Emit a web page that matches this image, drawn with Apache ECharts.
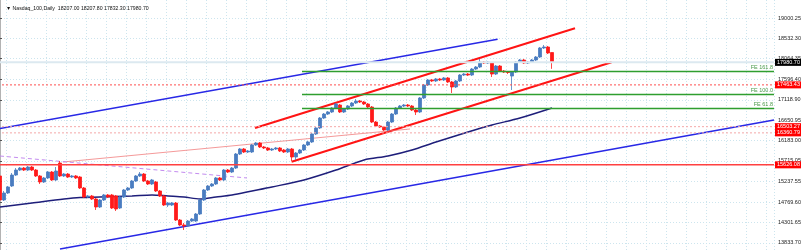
<!DOCTYPE html>
<html><head><meta charset="utf-8">
<script src="https://cdn.jsdelivr.net/npm/echarts@6/dist/echarts.min.js"></script>
<style>html,body{margin:0;padding:0;background:#fff}#c{width:801px;height:250px}</style>
</head><body><div id="c"></div>
<script>
const titleText = '\u25BC Nasdaq_100,Daily  18207.00 18207.80 17832.30 17980.70';
const tickLabels = [19000.25,18532.30,18064.35,17596.40,17118.90,16650.95,16183.00,15715.05,15237.55,14769.60,14301.65,13833.70];
const barCount = 194;
const opens = [
15370,14818,14979,15140,15392,15507,15553,15507,15576,15507,
15370,15232,15324,15461,15278,15668,15370,15415,15347,15370,
15347,15094,14887,14910,14841,14657,14818,14933,14933,14910,
14634,14887,15048,15094,15255,15370,15415,15255,15186,15232,
15025,14910,14703,14703,14749,14358,14244,14221,14335,14335,
14496,14818,15048,15140,15186,15324,15278,15507,15461,15553,
15875,15990,15921,15921,16082,16128,16036,16013,15967,15990,
16013,15967,15921,15990,15806,15898,15967,16082,16151,16335,
16473,16702,16794,16840,16932,17001,16840,16909,16978,17047,
17093,17070,17024,16955,16610,16519,16496,16427,16610,16794,
16932,16978,17001,16978,16886,16840,17162,17461,17576,17553,
17599,17576,17622,17530,17415,17553,17690,17713,17690,17828,
17874,17989,17966,17966,17713,17897,17782,17759,17667,17759,
17989,18035,17966,17989,18035,18104,18311,18334,18207.00];
const closes = [
14818,14979,15117,15392,15507,15553,15507,15576,15507,15370,
15232,15324,15461,15278,15484,15370,15415,15347,15370,15324,
15094,14887,14910,14841,14657,14818,14933,14887,14634,14611,
14887,15048,15094,15255,15370,15415,15255,15186,15278,15025,
14910,14703,14749,14749,14358,14244,14221,14335,14381,14496,
14818,15048,15140,15186,15324,15278,15507,15461,15553,15875,
15990,15921,15944,16082,16128,16036,16013,15967,15990,16013,
15944,15921,15990,15806,15898,15967,16082,16151,16335,16473,
16702,16794,16840,16932,17024,16840,16909,16978,17047,17093,
17070,17024,16955,16610,16519,16496,16427,16610,16794,16932,
16978,17001,16978,16886,16840,17162,17461,17576,17553,17599,
17576,17622,17530,17415,17553,17690,17713,17690,17828,17874,
17989,17966,17989,17713,17897,17782,17759,17748,17759,17989,
18035,17966,17989,18035,18104,18311,18334,18196,17980.70];
const lows = [
14749,14795,14956,15117,15370,15484,15484,15484,15484,15347,
15186,15209,15301,15255,15255,15347,15347,15324,15324,15301,
15071,14864,14864,14818,14588,14634,14795,14864,14611,14565,
14611,14864,15025,15071,15232,15347,15232,15163,15163,15002,
14887,14680,14657,14680,14335,14221,14129,14198,14312,14312,
14473,14795,15025,15117,15163,15255,15255,15438,15438,15530,
15852,15898,15898,15898,16059,16013,15990,15944,15944,15967,
15921,15898,15898,15714,15737,15875,15944,16059,16128,16312,
16450,16679,16771,16817,16909,16817,16817,16886,16955,17024,
17047,17001,16932,16587,16496,16473,16404,16404,16587,16771,
16909,16955,16955,16863,16771,16817,17139,17438,17530,17530,
17553,17553,17507,17277,17392,17530,17667,17667,17667,17805,
17851,17943,17943,17644,17690,17759,17736,17713,17346,17736,
17966,17943,17943,17966,18012,18081,18288,18173,17832.30];
const highs = [
15415,15025,15140,15438,15553,15576,15576,15599,15599,15530,
15392,15347,15484,15484,15576,15714,15438,15438,15392,15392,
15370,15117,14933,14933,14864,14841,14956,14956,14956,14933,
14910,15071,15117,15278,15392,15461,15438,15278,15301,15255,
15048,14933,14772,14772,14772,14381,14289,14358,14404,14519,
14841,15071,15163,15209,15347,15347,15530,15530,15576,15898,
16013,16013,15967,16105,16151,16151,16059,16036,16013,16036,
16036,15990,16013,16013,15921,15990,16105,16174,16358,16496,
16725,16817,16863,16955,17047,17024,16932,17001,17070,17139,
17116,17093,17047,16978,16633,16542,16519,16633,16817,16955,
17001,17024,17024,17001,16909,17185,17484,17599,17599,17622,
17622,17644,17644,17553,17576,17713,17736,17736,17851,17897,
18058,18012,18012,17989,17920,17920,17805,17782,17782,18012,
18058,18058,18012,18058,18127,18334,18380,18357,18207.80];
// moving average, read at sample bars: [bar index, value]
const maPoints = [[0,14657],[8,14749],[16,14841],[20,14875],[25,14887],[33,14910],[38,14933],[42,14910],[46,14887],[50,14841],[54,14887],[58,14933],[63,15025],[68,15117],[76,15278],[84,15507],[91,15737],[97,15829],[103,15967],[109,16151],[117,16381],[123,16542],[130,16702],[138,16932]];
const blueUpper = [[0,16459],[124.4,18511]];
const blueLower = [[15,13692],[193.5,16654]];
const redUpper = [[63.75,16473],[143.75,18764]];
const redLower = [[72.9,15698],[152.9,17982]];
const faintRed = [[15.75,15691],[102.5,16450]];
const violetDash = [[0,15829],[61.75,15324]];
const redLevels = [17463.43,16503.27,16360.79];
const supportLevel = 15626.08;
const priceLevel = 17980.70;
const feLevels = [17775,17247,16920];
const feNames = ['FE 161.8','FE 100.0','FE 61.8'];
const feStart = 75.5;

const categories = [];
for (let i = 0; i < barCount; i++) categories.push(String(i + 1));
const candles = opens.map((o, i) => [o, closes[i], lows[i], highs[i]]);

const FONT = 'Liberation Sans, Arial, sans-serif';
const gridColor = '#cde5ee';
function trend(data, color, width, type) {
  return { type: 'line', xAxisIndex: 1, yAxisIndex: 0, data: data, symbol: 'none', silent: true,
    lineStyle: { color: color, width: width, type: type || 'solid' }, z: 3 };
}
function level(v, color, width, type, boxColor) {
  const s = trend([[-0.5, v], [barCount - 0.5, v]], color, width, type);
  s.z = 5;
  s.endLabel = { show: true, formatter: () => v.toFixed(2), distance: 1,
    backgroundColor: boxColor, color: '#fff', fontSize: 5.5, fontFamily: FONT, padding: [1, 2, 0, 2] };
  return s;
}

const markData = [];
feLevels.forEach((v, k) => {
  markData.push([
    { coord: [feStart, v], lineStyle: { color: '#2f9e2f', width: 1.3, type: 'solid' },
      label: { show: true, position: 'insideEndTop', formatter: feNames[k], color: '#4a9a4a', fontSize: 5.5, fontFamily: FONT, distance: 1 } },
    { coord: [barCount - 0.5, v] }
  ]);
});

const chart = echarts.init(document.getElementById('c'), null, { renderer: 'canvas' });
chart.setOption({
  animation: false,
  backgroundColor: '#ffffff',
  title: { text: titleText, left: 1, top: 1, textStyle: { fontSize: 5.2, fontWeight: 'normal', color: '#111', fontFamily: FONT } },
  grid: { left: -2, right: 27, top: 0, bottom: 0, outerBoundsMode: 'none' },
  xAxis: [
    { type: 'category', data: categories, boundaryGap: true,
      axisLine: { show: false }, axisTick: { show: false }, axisLabel: { show: false },
      splitLine: { show: true, interval: (i) => i % 5 === 2, lineStyle: { color: gridColor, type: [1, 2], width: 1 } } },
    { type: 'value', min: -0.5, max: barCount - 0.5, show: false, splitLine: { show: false } }
  ],
  yAxis: [{
    type: 'value', position: 'right', min: 13669, max: 19414, scale: true,
    axisLine: { show: true, lineStyle: { color: '#9a9a9a', width: 1.5 } },
    axisTick: { show: true, customValues: tickLabels, length: 2, lineStyle: { color: '#555' } },
    axisLabel: { show: true, customValues: tickLabels, fontSize: 5.5, color: '#222', margin: 4, fontFamily: FONT,
      formatter: (v) => Number(v).toFixed(2) },
    splitLine: { show: true, lineStyle: { color: gridColor, type: [1, 2], width: 1 } }
  }],
  series: [
    level(priceLevel, '#dce9f0', 2, 'solid', '#000000'),
    level(redLevels[0], '#ff5050', 1, [2, 2], '#ff0000'),
    level(redLevels[1], '#f5a8a8', 1, [2, 2], '#ff0000'),
    level(redLevels[2], '#f5a8a8', 1, [2, 2], '#ff0000'),
    level(supportLevel, '#ff4040', 1.5, 'solid', '#ff0000'),
    { type: 'candlestick', xAxisIndex: 0, data: candles, barWidth: 3,
      itemStyle: { color: '#4a7cc0', color0: '#ff1a1a', borderColor: '#4a7cc0', borderColor0: '#ff1a1a', borderWidth: 0.8 }, z: 4 },
    { type: 'line', xAxisIndex: 1, data: maPoints, symbol: 'none', smooth: 0.3, silent: true,
      lineStyle: { color: '#1e1e7a', width: 1.5 }, z: 3,
      markLine: { silent: true, symbol: ['none', 'none'], animation: false, data: markData } },
    trend(blueUpper, '#2828e6', 1.5),
    trend(blueLower, '#2828e6', 1.5),
    trend(redUpper, '#ff1414', 2),
    trend(redLower, '#ff1414', 2),
    trend(faintRed, 'rgba(240,110,110,0.7)', 1),
    trend(violetDash, '#c48cf0', 1, [4, 3])
  ]
});
</script></body></html>
